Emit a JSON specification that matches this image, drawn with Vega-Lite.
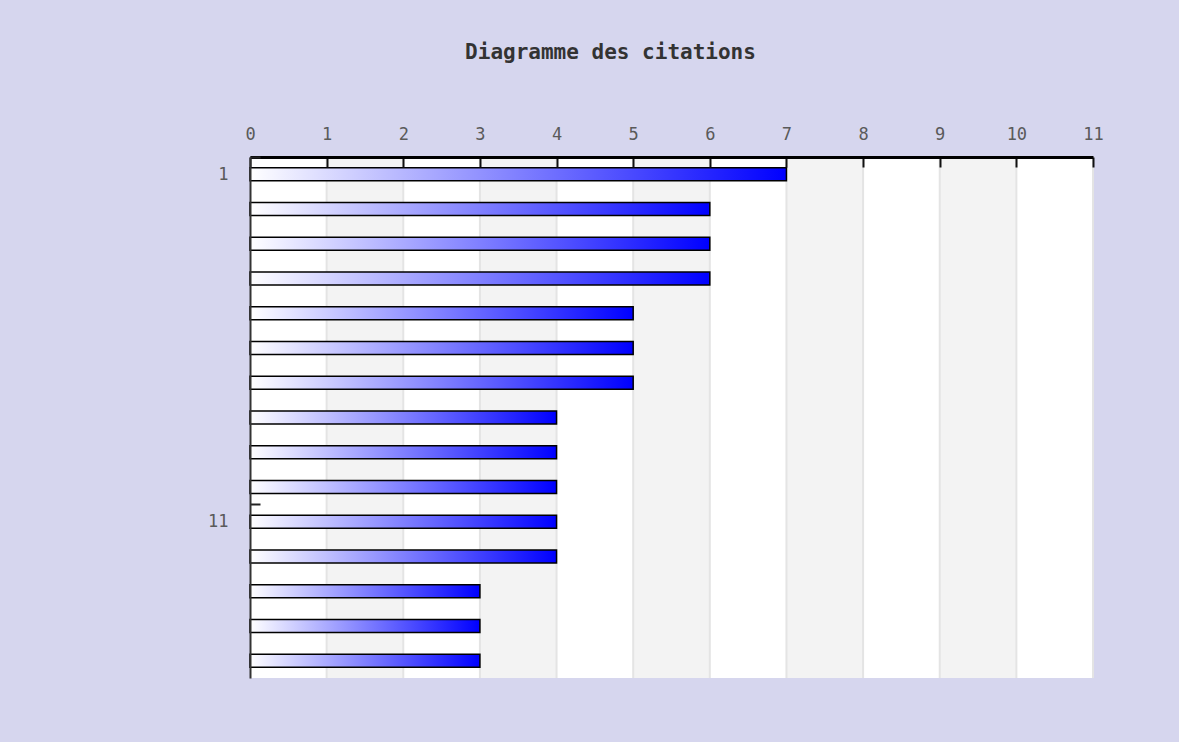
{
  "$schema": "https://vega.github.io/schema/vega-lite/v6.json",
  "autosize": "none",
  "width": 843,
  "height": 521,
  "padding": {"left": 250, "top": 157, "right": 86, "bottom": 64},
  "background": "#d6d6ee",
  "config": {
    "view": {"fill": "#ffffff", "stroke": null},
    "font": "DejaVu Sans Mono"
  },
  "title": {
    "text": "Diagramme des citations",
    "font": "DejaVu Sans Mono",
    "fontSize": 21,
    "fontWeight": "bold",
    "color": "#333333",
    "anchor": "middle",
    "dx": -61,
    "offset": 62
  },
  "datasets": {
    "bands": [
      {"debut": 1, "fin": 2},
      {"debut": 3, "fin": 4},
      {"debut": 5, "fin": 6},
      {"debut": 7, "fin": 8},
      {"debut": 9, "fin": 10}
    ],
    "grille": [
      {"valeur": 1}, {"valeur": 2}, {"valeur": 3}, {"valeur": 4}, {"valeur": 5},
      {"valeur": 6}, {"valeur": 7}, {"valeur": 8}, {"valeur": 9}, {"valeur": 10}, {"valeur": 11}
    ],
    "citations": [
      {"rang": 1, "citations": 7},
      {"rang": 2, "citations": 6},
      {"rang": 3, "citations": 6},
      {"rang": 4, "citations": 6},
      {"rang": 5, "citations": 5},
      {"rang": 6, "citations": 5},
      {"rang": 7, "citations": 5},
      {"rang": 8, "citations": 4},
      {"rang": 9, "citations": 4},
      {"rang": 10, "citations": 4},
      {"rang": 11, "citations": 4},
      {"rang": 12, "citations": 4},
      {"rang": 13, "citations": 3},
      {"rang": 14, "citations": 3},
      {"rang": 15, "citations": 3}
    ]
  },
  "layer": [
    {
      "data": {"name": "bands"},
      "mark": {"type": "rect", "color": "#f3f3f3"},
      "encoding": {
        "x": {
          "field": "debut",
          "type": "quantitative",
          "scale": {"domain": [0, 11], "nice": false},
          "axis": {
            "orient": "top",
            "title": null,
            "values": [0,1,2,3,4,5,6,7,8,9,10,11],
            "format": "d",
            "zindex": 1,
            "tickSize": -10,
            "tickWidth": 2,
            "tickColor": "#111111",
            "labelPadding": 24,
            "labelFontSize": 17,
            "labelColor": "#5a5a5a",
            "labelFont": "DejaVu Sans Mono",
            "labelFlush": false,
            "domainColor": "#000000",
            "domainWidth": 3,
            "grid": false
          }
        },
        "x2": {"field": "fin"}
      }
    },
    {
      "data": {"name": "grille"},
      "mark": {"type": "rule", "color": "#e4e4e4", "strokeWidth": 2},
      "encoding": {
        "x": {"field": "valeur", "type": "quantitative"}
      }
    },
    {
      "data": {"name": "citations"},
      "mark": {
        "type": "bar",
        "size": 13,
        "stroke": "#000000",
        "strokeWidth": 1.5,
        "fill": {
          "gradient": "linear",
          "x1": 0, "y1": 0, "x2": 1, "y2": 0,
          "stops": [
            {"offset": 0, "color": "#ffffff"},
            {"offset": 1, "color": "#0000ff"}
          ]
        }
      },
      "encoding": {
        "y": {
          "field": "rang",
          "type": "ordinal",
          "scale": {"domain": [1,2,3,4,5,6,7,8,9,10,11,12,13,14,15], "paddingInner": 0, "paddingOuter": 0},
          "axis": {
            "orient": "left",
            "title": null,
            "values": [1, 11],
            "ticks": true,
            "tickOffset": -17.4,
            "labelOffset": 17.4,
            "tickSize": -10,
            "tickWidth": 2,
            "tickColor": "#222222",
            "zindex": 1,
            "labelPadding": 32,
            "labelFontSize": 17,
            "labelColor": "#5a5a5a",
            "labelFont": "DejaVu Sans Mono",
            "domainColor": "#333333",
            "domainWidth": 2,
            "grid": false
          }
        },
        "x": {
          "field": "citations",
          "type": "quantitative"
        }
      }
    }
  ]
}
